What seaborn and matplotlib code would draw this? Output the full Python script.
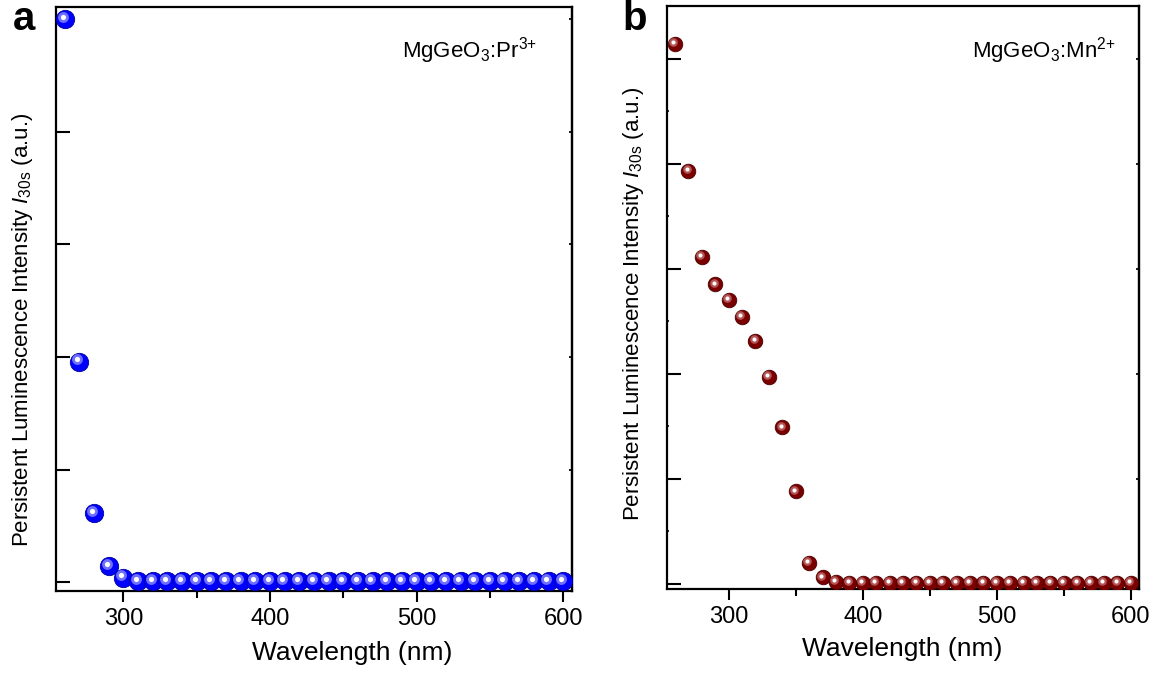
import numpy as np
import pandas as pd
import seaborn as sns
import matplotlib
matplotlib.use("Agg")
import matplotlib.pyplot as plt
from matplotlib.transforms import offset_copy
from matplotlib.ticker import MultipleLocator, NullFormatter

sns.set_theme(style="ticks")
plt.rcParams['font.family'] = ['Liberation Sans', 'DejaVu Sans']
plt.rcParams['mathtext.fontset'] = 'custom'
plt.rcParams['mathtext.rm'] = 'Liberation Sans'
plt.rcParams['mathtext.it'] = 'Liberation Sans:italic'
plt.rcParams['axes.linewidth'] = 1.6
for key in ['text.color', 'axes.labelcolor', 'xtick.color', 'ytick.color', 'axes.edgecolor']:
    plt.rcParams[key] = 'black'

# excitation wavelength (nm)
wavelength = [260, 270, 280, 290, 300, 310, 320, 330, 340, 350,
              360, 370, 380, 390, 400, 410, 420, 430, 440, 450,
              460, 470, 480, 490, 500, 510, 520, 530, 540, 550,
              560, 570, 580, 590, 600]

# persistent luminescence intensity I_30s (a.u.)
pr_intensity = [5.00, 1.96, 0.61, 0.14, 0.04, 0.01, 0.01, 0.01, 0.01, 0.01,
                0.01, 0.01, 0.01, 0.01, 0.01, 0.01, 0.01, 0.01, 0.01, 0.01,
                0.01, 0.01, 0.01, 0.01, 0.01, 0.01, 0.01, 0.01, 0.01, 0.01,
                0.01, 0.01, 0.01, 0.01, 0.01]
mn_intensity = [5.14, 3.93, 3.11, 2.85, 2.70, 2.54, 2.31, 1.97, 1.49, 0.88,
                0.20, 0.06, 0.02, 0.01, 0.01, 0.01, 0.01, 0.01, 0.01, 0.01,
                0.01, 0.01, 0.01, 0.01, 0.01, 0.01, 0.01, 0.01, 0.01, 0.01,
                0.01, 0.01, 0.01, 0.01, 0.01]

xticks = [300, 400, 500, 600]

dfPr = pd.DataFrame({"wl": wavelength, "I": pr_intensity})
dfMn = pd.DataFrame({"wl": wavelength, "I": mn_intensity})

ylabel = r"Persistent Luminescence Intensity $\mathit{I}_{\mathrm{30s}}$ (a.u.)"


def sphere(ax, df, base, edge, mid, size, fig):
    # base ball
    sns.scatterplot(ax=ax, data=df, x="wl", y="I", s=size, color=base,
                    edgecolor=edge, linewidth=0.6, zorder=3, legend=False)
    d = np.sqrt(size)
    # soft highlight shifted up-left
    tr = offset_copy(ax.transData, fig=fig, x=-d * 0.12, y=d * 0.12, units='points')
    ax.scatter(df["wl"], df["I"], s=size * 0.35, color=mid, linewidth=0,
               transform=tr, zorder=4)
    ax.scatter(df["wl"], df["I"], s=size * 0.08, color="white", linewidth=0,
               transform=tr, zorder=5)


def styleAxes(ax, ylim, minorY):
    ax.set_xlim(254, 606)
    ax.set_ylim(*ylim)
    ax.set_xticks(xticks)
    ax.xaxis.set_minor_locator(MultipleLocator(50))
    ax.yaxis.set_major_locator(MultipleLocator(1))
    if minorY:
        ax.yaxis.set_minor_locator(MultipleLocator(0.5))
    ax.yaxis.set_major_formatter(NullFormatter())
    ax.tick_params(axis='x', which='major', direction='out', length=8, width=1.5,
                   labelsize=17, pad=4, top=False)
    ax.tick_params(axis='x', which='minor', direction='out', length=5, width=1.5, top=False)
    ax.tick_params(axis='y', which='major', direction='in', length=10, width=1.5,
                   right=True)
    ax.tick_params(axis='y', which='minor', direction='in', length=1.5, width=1.2, right=False)
    ax.tick_params(axis='y', which='major', right=True)
    for s in ax.spines.values():
        s.set_visible(True)
        s.set_linewidth(1.6)
    ax.set_xlabel("Wavelength (nm)", fontsize=19)
    ax.set_ylabel(ylabel, fontsize=16)


fig = plt.figure(figsize=(11.61, 6.77), dpi=100)
axA = fig.add_axes([0.0482, 0.127, 0.4445, 0.8625])
axB = fig.add_axes([0.5745, 0.130, 0.4065, 0.861])

sphere(axA, dfPr, "#0000ff", "#0000a0", "#6f6fff", 175, fig)
sphere(axB, dfMn, "#7a0000", "#4a0000", "#b35555", 110, fig)

styleAxes(axA, (-0.08, 5.11), False)
styleAxes(axB, (-0.05, 5.5), True)

# tiny mirrored ticks on the right spine, as in the original
axA.secondary_yaxis('right').tick_params(direction='in', length=2, labelright=False)
axB.secondary_yaxis('right').tick_params(direction='in', length=2, labelright=False)
axA.tick_params(axis='y', which='major', right=False)
axB.tick_params(axis='y', which='major', right=False)

axA.xaxis.set_label_coords(0.574, -0.085)
axB.xaxis.set_label_coords(0.498, -0.083)
axA.yaxis.set_label_coords(-0.040, 0.447)
axB.yaxis.set_label_coords(-0.045, 0.49)

axA.text(0.67, 0.914, r"MgGeO$_3$:Pr$^{3{+}}$", transform=axA.transAxes, fontsize=16,
         ha='left', va='baseline')
axB.text(0.646, 0.912, r"MgGeO$_3$:Mn$^{2{+}}$", transform=axB.transAxes, fontsize=16,
         ha='left', va='baseline')

fig.text(0.011, 0.956, "a", fontsize=29, fontweight='bold', ha='left', va='baseline')
fig.text(0.536, 0.956, "b", fontsize=29, fontweight='bold', ha='left', va='baseline')

fig.savefig("out.png", dpi=100)
